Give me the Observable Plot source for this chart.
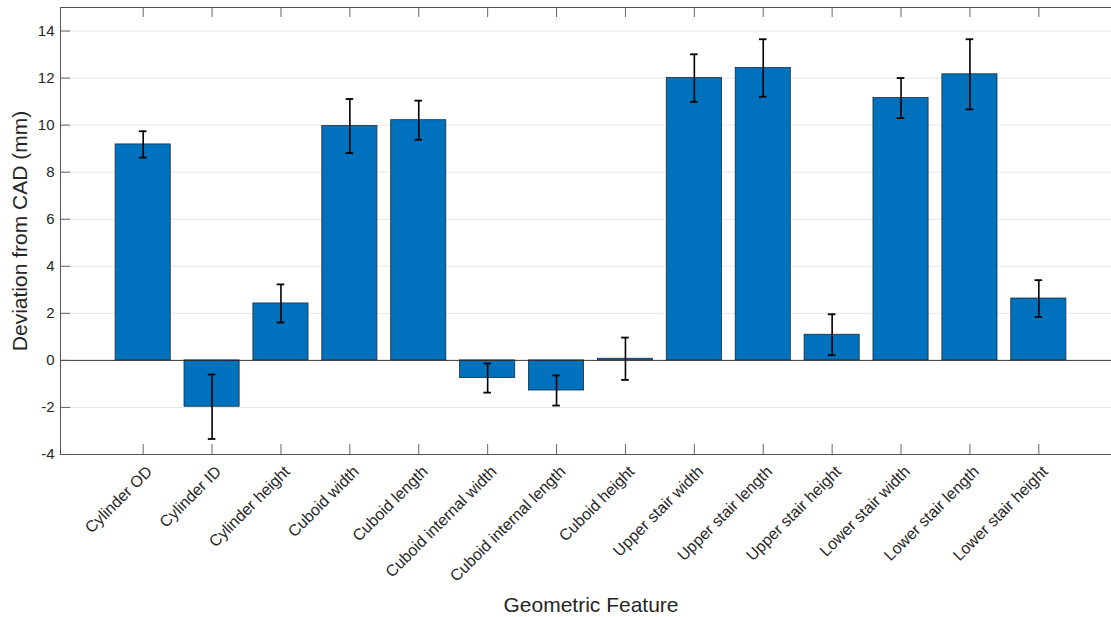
<!DOCTYPE html>
<html>
<head>
<meta charset="utf-8">
<script src="https://cdn.jsdelivr.net/npm/d3@7"></script>
<script src="https://cdn.jsdelivr.net/npm/@observablehq/plot@0.6"></script>
<style>
  html, body { margin: 0; padding: 0; background: #fff; overflow: hidden; }
  #chart svg { overflow: hidden; display: block; }
</style>
</head>
<body>
<div id="chart"></div>
<script>
const features = [
  "Cylinder OD", "Cylinder ID", "Cylinder height", "Cuboid width", "Cuboid length",
  "Cuboid internal width", "Cuboid internal length", "Cuboid height",
  "Upper stair width", "Upper stair length", "Upper stair height",
  "Lower stair width", "Lower stair length", "Lower stair height"
];
const values = [9.18, -1.97, 2.42, 9.96, 10.21, -0.75, -1.28, 0.07, 12.0, 12.43, 1.09, 11.15, 12.16, 2.63];
const errors = [0.56, 1.37, 0.81, 1.15, 0.83, 0.62, 0.64, 0.90, 1.01, 1.22, 0.87, 0.85, 1.49, 0.78];
const yTicks = [-4, -2, 0, 2, 4, 6, 8, 10, 12, 14];
const yTitle = "Deviation from CAD (mm)";
const xTitle = "Geometric Feature";

const data = features.map((name, k) => ({i: k + 1, name, value: values[k], err: errors[k]}));
const idx = data.map(d => d.i);

const textColor = "#262626";
const frameW = 1111 + 10 - 60;   // frame width in px (right edge sits just past the picture)
const frameH = 617 - 163 - 7;    // frame height in px
const tick = 10;

const chart = Plot.plot({
  width: 1111,
  height: 617,
  marginLeft: 60,
  marginRight: -10,
  marginTop: 7,
  marginBottom: 163,
  x: {domain: [-0.2, 15.2], axis: null},
  y: {domain: [-4, 15]},
  style: {fontFamily: "'Liberation Sans', Arial, Helvetica, sans-serif", background: "#fff", color: textColor},
  marks: [
    Plot.gridY(yTicks, {stroke: "#e6e6e6", strokeOpacity: 1, strokeWidth: 1}),
    Plot.rectY(data, {
      x1: d => d.i - 0.4, x2: d => d.i + 0.4, y1: 0, y2: "value",
      fill: "#0072BD", stroke: "#1b2a3a", strokeWidth: 0.8
    }),
    Plot.ruleY([0], {stroke: "#262626", strokeWidth: 0.9}),
    Plot.ruleX(data, {x: "i", y1: d => d.value - d.err, y2: d => d.value + d.err, stroke: "#000", strokeWidth: 1.6}),
    Plot.ruleY(data, {y: d => d.value + d.err, x1: d => d.i - 0.055, x2: d => d.i + 0.055, stroke: "#000", strokeWidth: 1.8}),
    Plot.ruleY(data, {y: d => d.value - d.err, x1: d => d.i - 0.055, x2: d => d.i + 0.055, stroke: "#000", strokeWidth: 1.8}),
    // inward tick marks
    Plot.ruleX(idx, {x: d => d, insetTop: frameH - tick, stroke: "#555", strokeWidth: 0.9}),
    Plot.ruleX(idx, {x: d => d, insetBottom: frameH - tick, stroke: "#555", strokeWidth: 0.9}),
    Plot.ruleY(yTicks, {y: d => d, insetRight: frameW - tick, stroke: "#555", strokeWidth: 0.9}),
    Plot.ruleY(yTicks, {y: d => d, insetLeft: frameW - tick, stroke: "#555", strokeWidth: 0.9}),
    Plot.frame({stroke: "#555", strokeWidth: 1}),
    Plot.axisY(yTicks, {
      tickSize: 0, tickPadding: 6, fontSize: 15, fill: textColor,
      tickFormat: d => String(d), label: null
    }),
    Plot.text(data, {
      x: "i", frameAnchor: "bottom", text: "name", rotate: -45,
      textAnchor: "end", lineAnchor: "bottom", dx: 10, dy: 18,
      fontSize: 16, fill: textColor
    }),
    Plot.text([yTitle], {frameAnchor: "left", textAnchor: "middle", lineAnchor: "middle", dx: -40, rotate: -90, fontSize: 21, fill: textColor}),
    Plot.text([xTitle], {frameAnchor: "bottom", textAnchor: "middle", lineAnchor: "middle", dy: 151, fontSize: 21, fill: textColor})
  ]
});
document.getElementById("chart").appendChild(chart);
</script>
</body>
</html>
